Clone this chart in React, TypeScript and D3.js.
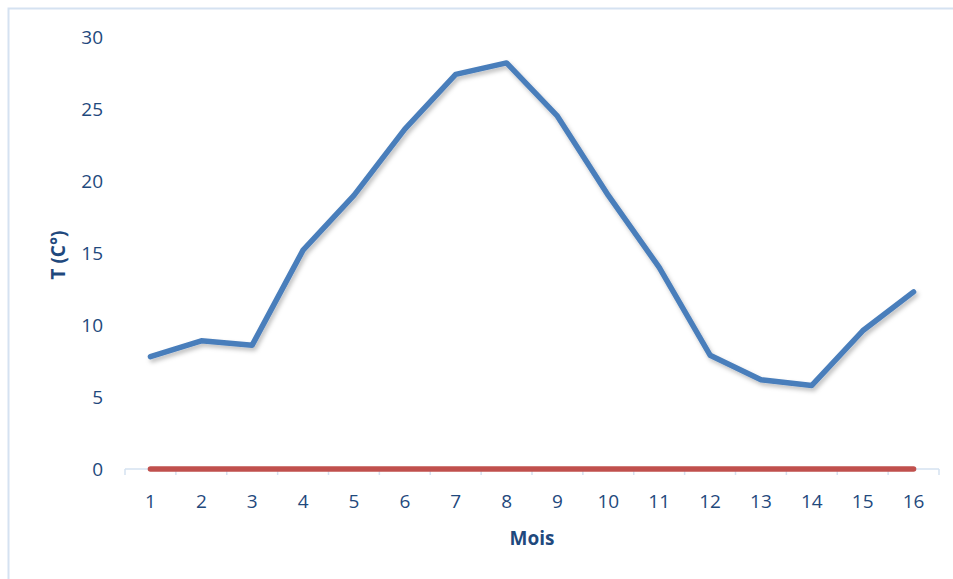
import React from "react";
import * as d3 from "d3";

const months = ["1","2","3","4","5","6","7","8","9","10","11","12","13","14","15","16"];
const temps = [7.8, 8.9, 8.6, 15.2, 19.0, 23.6, 27.4, 28.2, 24.5, 19.0, 14.0, 7.9, 6.2, 5.8, 9.6, 12.3];
const zeros = [0,0,0,0,0,0,0,0,0,0,0,0,0,0,0,0];
const yTicks = [0, 5, 10, 15, 20, 25, 30];

const W = 953, H = 579;
const textColor = "#1F497D";
const font = "'Open Sans', 'Noto Sans', sans-serif";

export default function App() {
  const x = d3.scaleBand<string>().domain(months).range([125, 939]).padding(0);
  const y = d3.scaleLinear().domain([0, 30]).range([469, 37]);
  const cx = (m: string) => (x(m) as number) + x.bandwidth() / 2;
  const line = d3.line<number>().x((_, i) => cx(months[i])).y((d) => y(d));
  const axisY = y(0);
  const boundaries = [...months.map((m) => x(m) as number), 939];

  return (
    <svg width={W} height={H} style={{ position: "absolute", left: 0, top: 0 }}>
      <defs>
        <filter id="sh" x="-10%" y="-10%" width="120%" height="130%">
          <feDropShadow dx="2" dy="3" stdDeviation="2" floodColor="#000" floodOpacity="0.25" />
        </filter>
      </defs>
      <rect x={0} y={0} width={W} height={H} fill="#fff" />
      <rect x={8.5} y={8.5} width={W + 10} height={H + 10} fill="none" stroke="#D5E2F1" strokeWidth={2} />
      {/* x axis */}
      <line x1={125} x2={939} y1={axisY} y2={axisY} stroke="#D5E2F1" strokeWidth={1.5} />
      {boundaries.map((b, i) => (
        <line key={i} x1={b} x2={b} y1={axisY} y2={axisY + 6} stroke="#D5E2F1" strokeWidth={1.5} />
      ))}
      {yTicks.map((t) => (
        <text key={t} x={103} y={y(t)} dy="0.35em" textAnchor="end" fontFamily={font} fontSize={19} fill={textColor}>
          {t}
        </text>
      ))}
      {months.map((m) => (
        <text key={m} x={cx(m)} y={501} dy="0.35em" textAnchor="middle" fontFamily={font} fontSize={19} fill={textColor}>
          {m}
        </text>
      ))}
      <path d={line(zeros) as string} fill="none" stroke="#C0504D" strokeWidth={5.5} strokeLinecap="round" />
      <path d={line(temps) as string} fill="none" stroke="#4A7EBB" strokeWidth={5.5} strokeLinecap="round" strokeLinejoin="round" filter="url(#sh)" />
      <text x={532} y={538} dy="0.35em" textAnchor="middle" fontFamily={font} fontSize={19} fontWeight="bold" fill={textColor}>
        Mois
      </text>
      <text transform={`translate(58,255) rotate(-90)`} dy="0.35em" textAnchor="middle" fontFamily={font} fontSize={19} fontWeight="bold" fill={textColor}>
        T (C°)
      </text>
    </svg>
  );
}
